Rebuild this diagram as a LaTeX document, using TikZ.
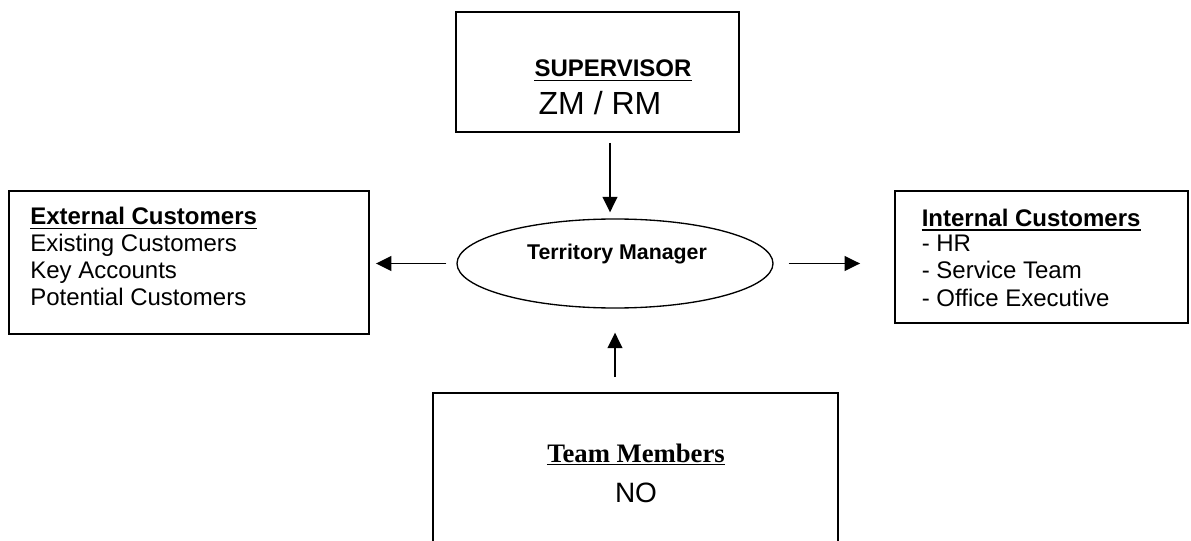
\documentclass[tikz,border=0pt]{standalone}
\usepackage{fontspec}
\setmainfont{Liberation Sans}
\newfontfamily\timesface{Liberation Serif}
\usetikzlibrary{arrows.meta,shapes.geometric}
\begin{document}
\begin{tikzpicture}[x=0.75pt,y=-0.75pt,
  box/.style={draw, line width=1.4pt, inner sep=0pt},
  oval/.style={draw, ellipse, line width=1pt, inner sep=0pt},
  txt/.style={inner sep=0pt, anchor=base},
  ltxt/.style={inner sep=0pt, anchor=base west, font=\fontsize{18}{20}\selectfont},
  ul/.style={line width=1.2pt},
  arr/.style={line width=1.3pt, -{Triangle[length=11.5pt,width=11pt]}}]
\useasboundingbox (0,0) rectangle (1191,541);
\clip (0,0) rectangle (1191,541);

% boxes
\node[box, minimum width=212.25pt, minimum height=90pt] (sup) at (597.5,72) {};
\node[box, minimum width=270pt, minimum height=107.25pt] (ext) at (189,262.5) {};
\node[box, minimum width=219.75pt, minimum height=99pt] (int) at (1041.5,257) {};
\node[box, minimum width=303.75pt, minimum height=125.25pt] (team) at (635.5,476.5) {};
\node[oval, minimum width=237pt, minimum height=66.75pt] (tm) at (615,263.5) {};

% supervisor texts
\node[txt, font=\fontsize{18}{20}\selectfont\bfseries] (supT) at (613,77) {SUPERVISOR};
\draw[ul] ([yshift=-2.5pt]supT.base west) -- ([yshift=-2.5pt]supT.base east);
\node[txt, font=\fontsize{24}{27}\selectfont] (supS) at (600,115) {ZM / RM};

% territory manager
\node[txt, font=\fontsize{16}{18}\selectfont\bfseries] (tmT) at (617,260) {Territory Manager};

% external customers
\node[ltxt, font=\fontsize{18}{20}\selectfont\bfseries] (ext1) at (30,225) {External Customers};
\draw[ul] ([yshift=-2.6pt]ext1.base west) -- ([yshift=-2.6pt]ext1.base east);
\node[ltxt] (ext2) at (30,252) {Existing Customers};
\node[ltxt] (ext3) at (30,278.5) {Key Accounts};
\node[ltxt] (ext4) at (30,305.5) {Potential Customers};

% internal customers
\node[ltxt, font=\fontsize{18}{20}\selectfont\bfseries] (int1) at (921.5,226.5) {Internal Customers};
\draw[ul] ([yshift=-2.6pt]int1.base west) -- ([yshift=-2.6pt]int1.base east);
\node[ltxt] (int2) at (921.5,252) {- HR};
\node[ltxt] (int3) at (921.5,279) {- Service Team};
\node[ltxt] (int4) at (921.5,306.5) {- Office Executive};

% team members
\node[txt, font=\fontsize{20}{23}\selectfont\timesface\bfseries] (teamT) at (636,462) {Team Members};
\draw[ul] ([yshift=-2pt]teamT.base west) -- ([yshift=-2pt]teamT.base east);
\node[txt, font=\fontsize{21}{24}\selectfont] (teamS) at (636,502) {NO};

% connectors
\draw[arr, shorten <=7.5pt, shorten >=4.5pt] ([xshift=9.375pt]sup.south) -- ([xshift=-3.75pt]tm.north);
\draw[arr, shorten <=7.5pt, shorten >=4.5pt] (tm.west) -- (tm.west -| ext.east);
\draw[arr, shorten <=11.25pt, shorten >=25.5pt] (tm.east) -- (tm.east -| int.west);
\draw[arr, shorten <=11.25pt, shorten >=18pt] (team.north -| tm.south) -- (tm.south);
\end{tikzpicture}
\end{document}
